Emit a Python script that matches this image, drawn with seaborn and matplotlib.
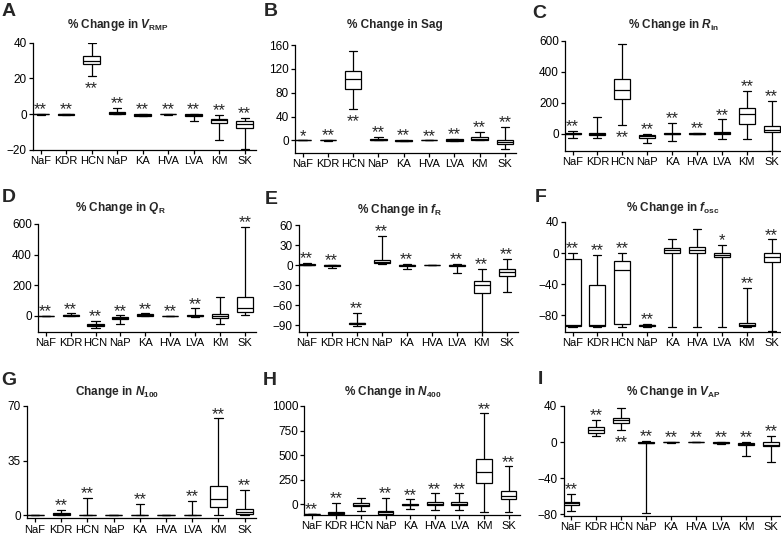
import numpy as np
import pandas as pd
import matplotlib
matplotlib.use("Agg")
import matplotlib.pyplot as plt
import seaborn as sns

channels = ["NaF", "KDR", "HCN", "NaP", "KA", "HVA", "LVA", "KM", "SK"]

# five-number summaries per channel: [min, q1, median, q3, max]
vrmp = [[-0.3, -0.1, 0, 0.1, 0.3], [-0.4, -0.2, 0, 0, 0.2], [21.5, 28, 30, 32.7, 40],
        [0, 0.3, 0.7, 1.5, 3.5], [-1.2, -0.8, -0.4, 0, 0.2], [-0.2, 0, 0, 0, 0.2],
        [-4, -1, -0.5, 0, 0.3], [-14.5, -5, -3.5, -2.5, -0.5], [-19.5, -7.5, -5.5, -4, -2]]
sag = [[0, 0, 0, 0, 0], [-0.5, 0, 0, 0, 0.5], [53, 87, 103, 116, 150],
       [0, 0.5, 1, 2, 5.5], [-1.5, -1, -0.5, 0, 0.5], [0, 0, 0, 0, 0],
       [-1, -0.5, 0.5, 2, 3], [0, 1, 3, 5, 14.5], [-14.5, -6, -3, 0, 23]]
rin = [[-30, -5, 0, 5, 17], [-30, -10, 0, 5, 110], [54, 226, 282, 350, 576],
       [-62, -25, -18, -10, 0], [-45, -5, 0, 5, 71], [-3, -2, 0, 2, 3],
       [-32, -5, 3, 10, 92], [-37, 60, 125, 163, 275], [-110, 9, 24, 52, 211]]
qr = [[-5, -2, 0, 0, 0], [-2, 0, 2, 5, 15], [-78, -68, -60, -54, -35],
      [-52, -24, -15, -7, 2], [-2, 0, 3, 8, 15], [-1, 0, 0, 0, 1],
      [-10, -2, 0, 5, 48], [-57, -13, 0, 11, 120], [2, 26, 52, 124, 582]]
fr = [[0, 0, 0.5, 1, 3.5], [-4.5, -1, -0.5, 0, 0.5], [-91, -88, -87, -86, -72],
      [1, 2.5, 4, 7.5, 44], [-6, -1, -0.5, 0, 1.5], [-0.5, 0, 0, 0, 0.5],
      [-11.5, -1, -0.5, 0, 2], [-100, -41, -30, -23, -6], [-40, -17, -11, -6.5, 9]]
fosc = [[-95.5, -93.5, -93, -7.7, 0], [-95.5, -93.5, -92, -41, -2], [-95.5, -91.3, -21.9, -10.7, 0],
        [-95, -94, -93, -92, -91], [-95.5, -0.4, 3.9, 6.9, 18], [-95.5, -0.4, 3.8, 7.3, 31],
        [-95.5, -5, -2.6, 0, 11], [-95.5, -93.5, -92, -90.4, -44.6], [-99.9, -12, -5.1, -0.4, 17.6]]
n100 = [[0, 0, 0, 0, 0], [0, 0.2, 0.5, 1.5, 3.2], [0, 0, 0, 0, 10.9],
        [0, 0, 0, 0, 0], [0, 0, 0, 0, 7], [0, 0, 0, 0, 0],
        [0, 0, 0, 0, 9.2], [0, 5.1, 10.2, 19, 62], [0.2, 0.85, 2.3, 4, 16]]
n400 = [[-100, -100, -100, -100, -100], [-105, -102, -90, -78, 12], [-68, -17, -8, 7, 58],
        [-112, -102, -85, -71, 65], [-51, -10, -5, 3, 48], [-61, -14, 3, 20, 109],
        [-61, -14, 2, 17, 109], [-78, 211, 323, 456, 925], [-78, 48, 78, 136, 384]]
vap = [[-76.5, -70.3, -68, -66, -57.4], [6.6, 10.3, 13.3, 16.2, 24.7], [13, 21, 24, 26.5, 38],
       [-78.8, -1, -0.5, 0, 1.5], [-0.5, -0.3, 0, 0, 0.3], [-0.3, 0, 0, 0, 0.3],
       [-2.2, -1, -0.5, 0, 0.5], [-15, -3, -2, -1, 0], [-22, -4, -3, -0.4, 6.6]]

# significance marks and which channels carry them under the box
vrmp_stars = ["**"] * 9
sag_stars = ["*"] + ["**"] * 8
rin_stars = ["**", "", "**", "**", "**", "**", "**", "**", "**"]
qr_stars = ["**", "**", "**", "**", "**", "**", "**", "", "**"]
fr_stars = ["**", "**", "**", "**", "**", "", "**", "**", "**"]
fosc_stars = ["**", "**", "**", "**", "", "", "*", "**", "**"]
n100_stars = ["", "**", "**", "", "**", "", "**", "**", "**"]
n400_stars = ["**", "**", "", "**", "**", "**", "**", "**", "**"]
vap_stars = ["**"] * 9
below = ["HCN"]

titles = [r"% Change in $\mathbfit{V}_{\mathbf{RMP}}$", "% Change in Sag",
          r"% Change in $\mathbfit{R}_{\mathbf{in}}$", r"% Change in $\mathbfit{Q}_{\mathbf{R}}$",
          r"% Change in $\mathbfit{f}_{\mathbf{R}}$", r"% Change in $\mathbfit{f}_{\mathbf{osc}}$",
          r"Change in $\mathbfit{N}_{\mathbf{100}}$", r"% Change in $\mathbfit{N}_{\mathbf{400}}$",
          r"% Change in $\mathbfit{V}_{\mathbf{AP}}$"]
yticks = [[-20, 0, 20, 40], [0, 40, 80, 120, 160], [0, 200, 400, 600],
          [0, 200, 400, 600], [-90, -60, -30, 0, 30, 60], [-80, -40, 0, 40],
          [0, 35, 70], [0, 250, 500, 750, 1000], [-80, -40, 0, 40]]
ylims = [(-20, 40), (-21, 160), (-110, 600), (-105, 600), (-100, 60), (-101, 40),
         (-2, 70), (-112, 1000), (-82, 40)]

panels = [vrmp, sag, rin, qr, fr, fosc, n100, n400, vap]
stars = [vrmp_stars, sag_stars, rin_stars, qr_stars, fr_stars, fosc_stars,
         n100_stars, n400_stars, vap_stars]
below_panels = {0, 1, 2, 8}

# layout in pixels: first tick x, tick spacing, axis top, axis bottom
W, H = 781, 535
layout = [(40.7, 25.5, 42.7, 150), (302.5, 25.3, 45, 153), (572.5, 24.9, 40.7, 150.7),
          (45.7, 24.9, 224, 331.7), (306.7, 25.0, 225, 332), (572.5, 24.9, 222, 331.7),
          (35, 26.2, 406, 518.3), (311.7, 24.6, 406, 515), (571.0, 25.0, 406, 516)]
title_pos = [(118, 25), (395, 25), (674, 25), (120, 208), (400, 210), (673, 208),
             (117, 392), (393, 392), (673, 392)]
letter_pos = [(2, 3), (264, 3), (532, 5), (2, 189), (265, 191), (535, 189),
              (1, 372), (263, 372), (538, 371)]
letters = list("ABCDEFGHI")

sns.set_style("ticks")
plt.rcParams["font.family"] = ["Liberation Sans", "DejaVu Sans"]
plt.rcParams["mathtext.fontset"] = "custom"
plt.rcParams["mathtext.rm"] = "Liberation Sans"
plt.rcParams["mathtext.bf"] = "Liberation Sans:bold"
plt.rcParams["mathtext.it"] = "Liberation Sans:italic"
plt.rcParams["mathtext.bfit"] = "Liberation Sans:italic:bold"

fig = plt.figure(figsize=(W / 100, H / 100), dpi=100)

for k, summ in enumerate(panels):
    x0, s, top, bot = layout[k]
    left = x0 - 0.3 * s
    ax = fig.add_axes([left / W, 1 - bot / H, 8.75 * s / W, (bot - top) / H])

    df = pd.DataFrame({
        "channel": np.repeat(channels, 5),
        "value": np.concatenate(summ),
    })
    sns.boxplot(data=df, x="channel", y="value", order=channels, whis=(0, 100),
                width=0.65, color="white", linecolor="black", linewidth=0.9,
                saturation=1, fliersize=0, ax=ax)

    ax.set_xlim(-0.3, 8.45)
    ax.set_ylim(*ylims[k])
    ax.set_yticks(yticks[k])
    ax.set_xlabel("")
    ax.set_ylabel("")
    sns.despine(ax=ax)
    for sp in ["left", "bottom"]:
        ax.spines[sp].set_linewidth(0.9)
        ax.spines[sp].set_color("black")
    ax.tick_params(direction="out", length=3, width=0.9, colors="black", pad=1.5)
    ax.tick_params(axis="x", labelsize=8)
    ax.tick_params(axis="y", labelsize=8.5)

    for i, st in enumerate(stars[k]):
        if not st:
            continue
        vals = summ[i]
        if k in below_panels and channels[i] in below:
            ax.annotate(st, xy=(i, min(vals)), xytext=(0, -9.2), textcoords="offset points",
                        ha="center", va="center", fontsize=12, annotation_clip=False)
        else:
            ax.annotate(st, xy=(i, max(vals)), xytext=(0, 3.0), textcoords="offset points",
                        ha="center", va="center", fontsize=12, annotation_clip=False)

    tx, ty = title_pos[k]
    fig.text(tx / W, 1 - ty / H, titles[k], ha="center", va="center",
             fontsize=8.5, fontweight="bold")
    lx, ly = letter_pos[k]
    fig.text(lx / W, 1 - ly / H, letters[k], ha="left", va="top",
             fontsize=14, fontweight="bold")

fig.savefig("out.png", dpi=100)
